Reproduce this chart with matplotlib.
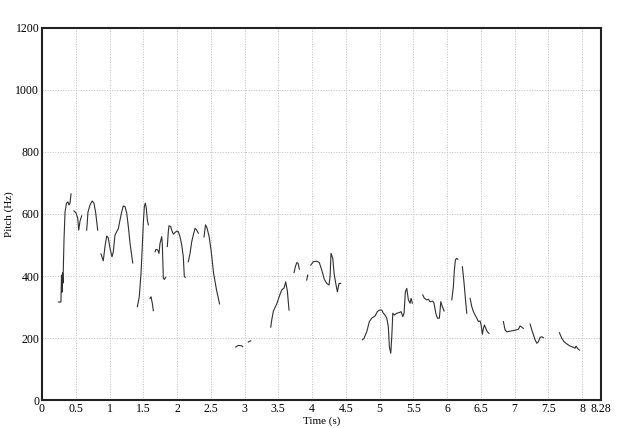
import numpy as np
import matplotlib
matplotlib.use('agg')
import matplotlib.pyplot as plt

# pitch track, one pair of lists per voiced stretch (time in s, pitch in Hz)
t1 = [0.244, 0.281, 0.289, 0.296, 0.304, 0.311, 0.326, 0.341, 0.363, 0.385, 0.400, 0.415, 0.430]
f1 = [316, 316, 403, 348, 410, 377, 516, 606, 635, 639, 629, 635, 665]
t2 = [0.474, 0.504, 0.529, 0.544, 0.563, 0.588]
f2 = [610, 603, 587, 548, 577, 594]
t3 = [0.662, 0.681, 0.711, 0.745, 0.770, 0.796, 0.825]
f3 = [548, 606, 629, 642, 635, 603, 548]
t4 = [0.874, 0.908, 0.933, 0.959, 0.982, 1.007, 1.037, 1.056, 1.081, 1.107, 1.130,
      1.156, 1.181, 1.204, 1.230, 1.255, 1.279, 1.304, 1.344]
f4 = [471, 449, 495, 529, 523, 490, 462, 478, 532, 543, 552, 581, 607, 626, 624,
      603, 559, 506, 442]
t5 = [1.412, 1.441, 1.467, 1.481, 1.501, 1.516, 1.530, 1.545, 1.560, 1.575]
f5 = [301, 333, 410, 474, 571, 624, 635, 619, 581, 565]
t6 = [1.600, 1.615, 1.634, 1.649]
f6 = [328, 333, 312, 288]
t7 = [1.674, 1.689, 1.714, 1.733, 1.748, 1.773, 1.782, 1.797, 1.812, 1.833]
f7 = [478, 486, 484, 473, 505, 527, 505, 393, 389, 396]
t8 = [1.856, 1.871, 1.881, 1.907, 1.921, 1.945, 1.970, 1.996, 2.019, 2.044, 2.070,
      2.093, 2.108, 2.123]
f8 = [495, 543, 562, 559, 548, 535, 540, 545, 543, 527, 500, 462, 398, 396]
t9 = [2.167, 2.193, 2.218, 2.241, 2.267, 2.292, 2.316]
f9 = [446, 473, 511, 532, 554, 548, 538]
t10 = [2.400, 2.422, 2.444, 2.474, 2.504, 2.541, 2.585, 2.630]
f10 = [526, 565, 555, 529, 484, 410, 355, 310]
t11 = [2.870, 2.908, 2.959, 2.973]
f11 = [171, 176, 175, 172]
t12 = [3.056, 3.092]
f12 = [187, 191]
t13 = [3.388, 3.403, 3.427, 3.477, 3.516, 3.551, 3.585, 3.610, 3.634, 3.659]
f13 = [235, 258, 287, 310, 335, 355, 361, 381, 352, 290]
t14 = [3.733, 3.753, 3.773, 3.793, 3.812]
f14 = [411, 430, 443, 441, 422]
t15 = [3.921, 3.936]
f15 = [387, 403]
t16 = [3.981, 4.019, 4.070, 4.108, 4.144, 4.182, 4.218, 4.252, 4.267, 4.281, 4.307,
       4.326, 4.351, 4.375, 4.400, 4.425]
f16 = [435, 446, 448, 443, 419, 389, 376, 371, 398, 473, 457, 409, 376, 349, 376, 376]
t17 = [4.745, 4.770, 4.810, 4.849, 4.884, 4.933, 4.967, 4.997, 5.033, 5.056, 5.081,
       5.107, 5.130, 5.145, 5.166, 5.181, 5.196, 5.219, 5.255, 5.293, 5.319, 5.344,
       5.363, 5.382, 5.403, 5.427, 5.452, 5.467, 5.486]
f17 = [194, 199, 220, 253, 264, 271, 285, 290, 290, 280, 274, 264, 236, 172, 151,
       204, 280, 274, 280, 282, 285, 269, 280, 349, 360, 323, 312, 328, 312]
t18 = [5.640, 5.664, 5.699, 5.723, 5.748, 5.788, 5.807, 5.833, 5.856, 5.886, 5.907,
       5.930, 5.956]
f18 = [339, 328, 323, 325, 317, 319, 312, 280, 264, 264, 317, 301, 287]
t19 = [6.070, 6.093, 6.108, 6.123, 6.144, 6.159]
f19 = [323, 365, 419, 452, 457, 454]
t20 = [6.227, 6.252, 6.271, 6.292]
f20 = [430, 376, 328, 280]
t21 = [6.341, 6.366, 6.390, 6.415, 6.440, 6.464, 6.489, 6.504, 6.523, 6.538, 6.553,
       6.573, 6.597, 6.622]
f21 = [328, 301, 285, 274, 264, 253, 255, 242, 212, 231, 242, 231, 220, 215]
t22 = [6.834, 6.859, 6.884, 6.982, 7.056, 7.081, 7.107, 7.130]
f22 = [253, 226, 220, 224, 228, 239, 235, 231]
t23 = [7.230, 7.255, 7.279, 7.304, 7.329, 7.353, 7.378, 7.403, 7.427]
f23 = [245, 226, 210, 194, 183, 188, 202, 204, 201]
t24 = [7.664, 7.699, 7.733, 7.773, 7.822, 7.871, 7.896, 7.911, 7.930, 7.960]
f24 = [217, 199, 188, 181, 174, 170, 167, 174, 167, 161]

segments = [(t1, f1), (t2, f2), (t3, f3), (t4, f4), (t5, f5), (t6, f6), (t7, f7),
            (t8, f8), (t9, f9), (t10, f10), (t11, f11), (t12, f12), (t13, f13),
            (t14, f14), (t15, f15), (t16, f16), (t17, f17), (t18, f18), (t19, f19),
            (t20, f20), (t21, f21), (t22, f22), (t23, f23), (t24, f24)]

duration = 8.28
x_ticks = [0, 0.5, 1, 1.5, 2, 2.5, 3, 3.5, 4, 4.5, 5, 5.5, 6, 6.5, 7, 7.5, 8, 8.28]
x_labels = ['0', '0.5', '1', '1.5', '2', '2.5', '3', '3.5', '4', '4.5', '5', '5.5',
            '6', '6.5', '7', '7.5', '8', '8.28']
y_ticks = [0, 200, 400, 600, 800, 1000, 1200]


def plot_pitch(filepath):
    '''
    Praat style pitch contour.
    '''
    fig = plt.figure(figsize=(6.43, 4.28), dpi=100)
    ax = fig.add_axes([0.0653, 0.0654, 0.8694, 0.8692])

    # dotted grid, drawn by hand so it skips the frame and 8.28
    for x in x_ticks[1:-1]:
        ax.axvline(x, color='#c0c0c0', ls=':', lw=0.7, zorder=0)
    for y in y_ticks[1:-1]:
        ax.axhline(y, color='#c0c0c0', ls=':', lw=0.7, zorder=0)

    for t, f in segments:
        ax.plot(t, f, color='#303030', lw=0.8)

    ax.set_xlim(0, duration)
    ax.set_ylim(0, 1200)
    ax.set_xticks(x_ticks)
    ax.set_xticklabels(x_labels)
    ax.set_yticks(y_ticks)
    ax.tick_params(length=0, labelsize=8.5, pad=2)
    for s in ax.spines.values():
        s.set_linewidth(1.5)
        s.set_color('#222222')

    ax.set_xlabel('Time (s)', fontsize=8, labelpad=1)
    ax.set_ylabel('Pitch (Hz)', fontsize=8, labelpad=1)
    fig.savefig(filepath)


if __name__ == "__main__":
    plt.rcParams.update({
        'font.family': ['Liberation Serif', 'DejaVu Serif'],
    })
    plot_pitch('out.png')
